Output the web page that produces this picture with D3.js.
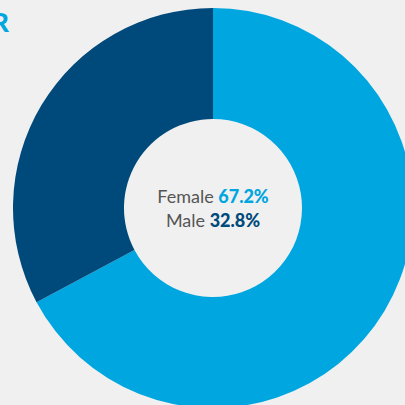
<!DOCTYPE html>
<html>
<head>
<meta charset="utf-8">
<script src="https://cdn.jsdelivr.net/npm/d3@7"></script>
<style>
  html, body { margin: 0; padding: 0; background: #f0f0f0; overflow: hidden; }
</style>
</head>
<body>
<div class="donut"></div>
<script>
const labels = ["Female", "Male"];
const values = [67.2, 32.8];
const colors = ["#00a6e0", "#004a7b"];

const width = 405;
const height = 405;
const cx = 213;
const cy = 208;
const outerR = 200;
const innerR = 89;

const svg = d3.select(".donut")
    .append("svg")
    .attr("width", width)
    .attr("height", height);

// title, cut off at the left edge like the source
svg.append("text")
    .attr("x", 9)
    .attr("y", 32)
    .attr("text-anchor", "end")
    .style("font-family", "Lato, 'Open Sans', sans-serif")
    .style("font-weight", "900")
    .style("font-size", "26px")
    .attr("fill", colors[0])
    .text("GENDER");

const pie = d3.pie().sort(null).value(d => d);
const arc = d3.arc().innerRadius(innerR).outerRadius(outerR);

svg.append("g")
    .attr("transform", `translate(${cx},${cy})`)
    .selectAll("path")
    .data(pie(values))
    .enter()
    .append("path")
    .attr("d", arc)
    .attr("fill", (d, i) => colors[i]);

const centre = svg.append("g")
    .attr("transform", `translate(${cx},${cy})`);

labels.forEach((name, i) => {
    const t = centre.append("text")
        .attr("y", -5 + i * 24)
        .attr("text-anchor", "middle")
        .style("font-family", "Lato, 'Open Sans', sans-serif")
        .style("font-size", "18px");
    t.append("tspan")
        .attr("fill", "#555")
        .text(name + " ");
    t.append("tspan")
        .attr("fill", colors[i])
        .style("font-weight", "900")
        .text(values[i].toFixed(1) + "%");
});
</script>
</body>
</html>
